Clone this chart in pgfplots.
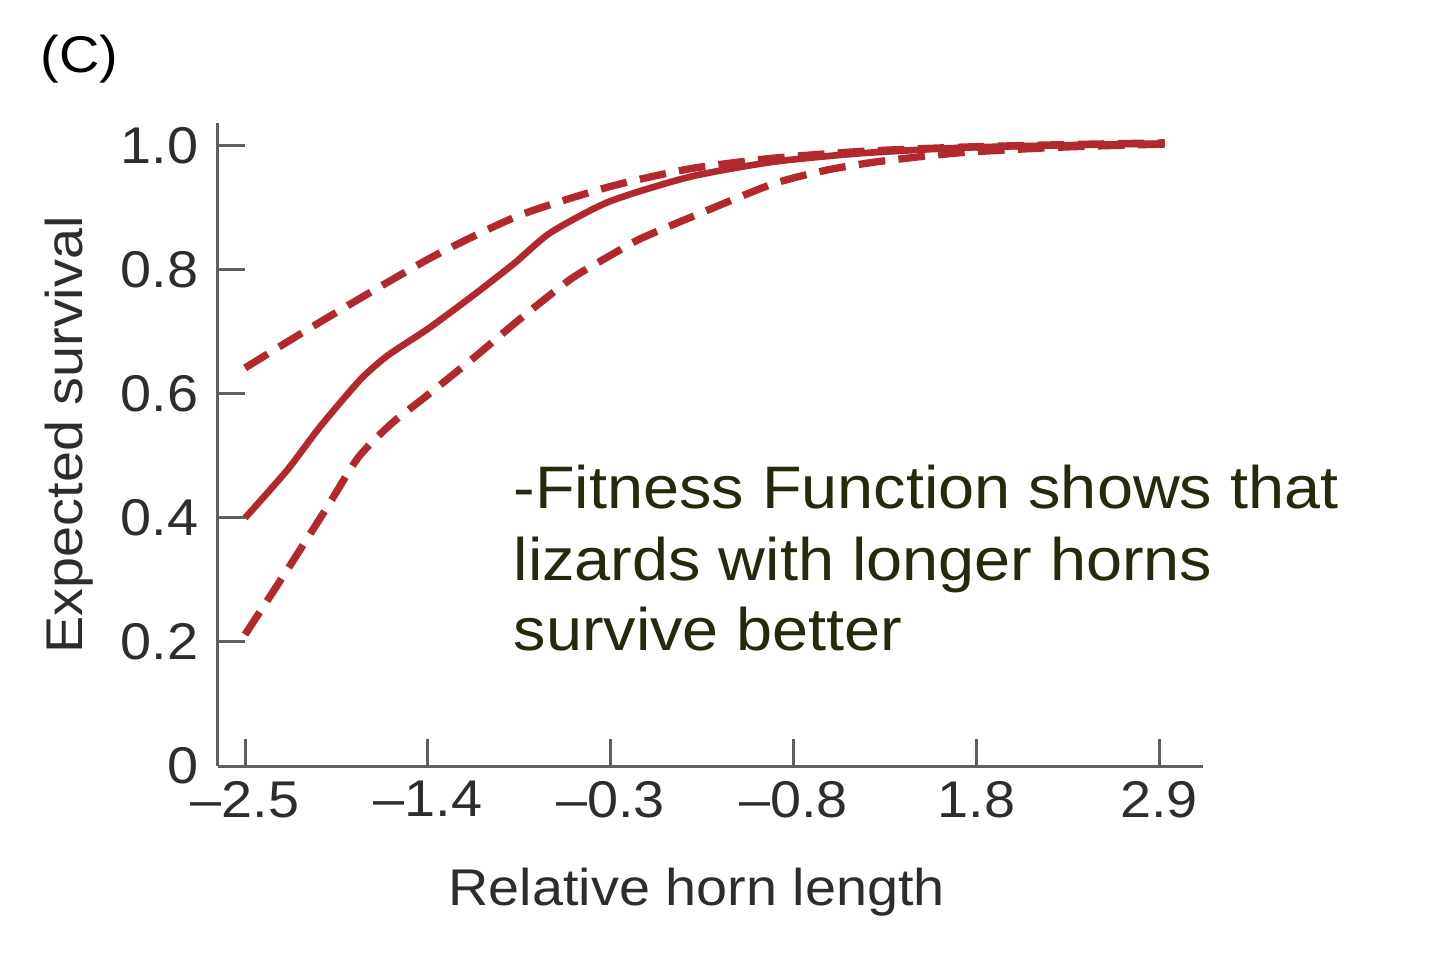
\documentclass[border=0pt]{standalone}
\usepackage{fontspec}
\setmainfont{Liberation Sans}[FakeStretch=1.08]
\usepackage{pgfplots}
\pgfplotsset{compat=1.18}
\definecolor{curvered}{RGB}{178,40,45}
\definecolor{axisgray}{RGB}{95,95,95}
\definecolor{ticktext}{RGB}{45,45,45}
\definecolor{notecol}{RGB}{40,40,12}
\begin{document}
\begin{tikzpicture}
\useasboundingbox (-65.4pt,-60.3pt) rectangle (366.6pt,229.8pt);
\begin{axis}[
  at={(0,0)}, anchor=south west,
  scale only axis,
  width=295.5pt, height=192.9pt,
  xmin=-0.148, xmax=5.24,
  ymin=0, ymax=1.037,
  axis lines=left,
  axis line style={-, draw=axisgray, line width=0.9pt},
  tick style={draw=axisgray, line width=0.9pt},
  tick align=inside,
  major tick length=8.1pt,
  xtick={0,1,2,3,4,5},
  xticklabels={–2.5,–1.4,–0.3,–0.8,1.8,2.9},
  ytick={0,0.2,0.4,0.6,0.8,1.0},
  yticklabels={0,0.2,0.4,0.6,0.8,1.0},
  /pgf/number format/assume math mode=true,
  ticklabel style={font=\fontsize{15.5pt}{18pt}\selectfont, text=ticktext},
  xticklabel style={yshift=-1pt},
  yticklabel style={xshift=-2.4pt},
  xlabel={Relative horn length},
  ylabel={Expected survival},
  label style={font=\fontsize{15.5pt}{18pt}\selectfont, text=ticktext},
  xlabel style={at={(axis description cs:0.486,0)}, anchor=base, yshift=-41.7pt},
  ylabel style={at={(axis description cs:0,0.515)}, anchor=base, yshift=40.5pt},
  clip=false,
]
\addplot[curvered, line width=2pt, smooth, tension=0.4] coordinates {
(0,0.400) (0.23,0.477) (0.41,0.547) (0.63,0.623) (0.78,0.662) (1.00,0.705)
(1.23,0.755) (1.47,0.810) (1.67,0.860) (1.99,0.910) (2.43,0.950) (2.88,0.974)
(3.36,0.988) (3.91,0.997) (4.46,1.001) (5.03,1.004)};
\addplot[curvered, line width=2.2pt, dash pattern=on 8pt off 4pt, smooth, tension=0.4] coordinates {
(0,0.642) (0.32,0.700) (0.68,0.763) (1.05,0.825) (1.50,0.888) (1.99,0.934)
(2.43,0.963) (2.88,0.980) (3.36,0.991) (3.91,0.998) (4.46,1.002) (5.03,1.005)};
\addplot[curvered, line width=2.2pt, dash pattern=on 8pt off 4pt, smooth, tension=0.4] coordinates {
(0,0.212) (0.23,0.316) (0.45,0.418) (0.62,0.498) (0.80,0.552) (0.98,0.594) (1.25,0.658)
(1.50,0.720) (1.78,0.785) (1.99,0.822) (2.16,0.850) (2.43,0.884) (2.88,0.938)
(3.18,0.961) (3.47,0.975) (3.91,0.989) (4.46,0.998) (5.03,1.003)};
\node[anchor=base west, font=\fontsize{15.5pt}{18pt}\selectfont, text=black, inner sep=0pt]
  at (axis description cs:-0.1807,1.0778) {(C)};
\node[anchor=base west, font=\fontsize{18pt}{21.6pt}\selectfont, text=notecol, inner sep=0pt]
  at (axis description cs:0.2995,0.401) {-Fitness Function shows that};
\node[anchor=base west, font=\fontsize{18pt}{21.6pt}\selectfont, text=notecol, inner sep=0pt]
  at (axis description cs:0.2995,0.289) {lizards with longer horns};
\node[anchor=base west, font=\fontsize{18pt}{21.6pt}\selectfont, text=notecol, inner sep=0pt]
  at (axis description cs:0.2995,0.180) {survive better};
\end{axis}
\end{tikzpicture}
\end{document}
